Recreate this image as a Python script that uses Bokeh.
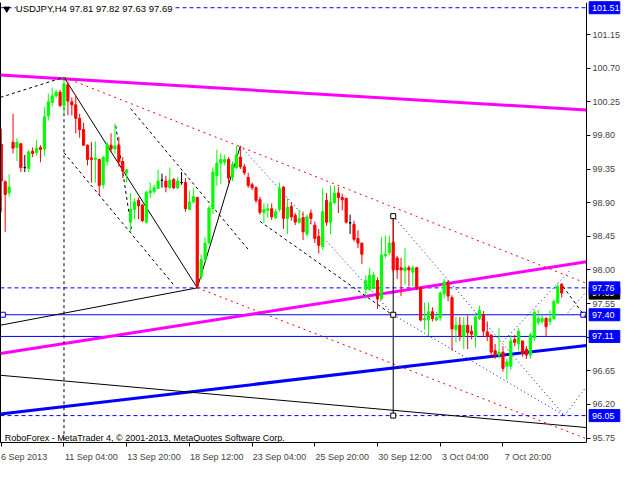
from bokeh.plotting import figure
from bokeh.models import LinearAxis, FixedTicker, Range1d, Label, PrintfTickFormatter
from bokeh.core.properties import value
from bokeh.embed import file_html
from bokeh.resources import INLINE

# ---------------- data (USDJPY H4 candles) ----------------
opens = [99.68, 99.18, 99.03, 99.71, 99.64, 99.69, 99.37, 99.36, 99.59, 99.57,
         99.64, 99.62, 100.06, 100.24, 100.33, 100.38, 100.20, 100.48, 100.25, 100.21,
         100.03, 99.88, 99.67, 99.50, 99.48, 99.48, 99.14, 99.45, 99.67, 99.62,
         99.67, 99.45, 99.30, 98.64, 98.81, 98.93, 98.87, 98.64, 99.03, 99.05,
         99.09, 99.20, 99.19, 99.10, 99.21, 99.10, 99.17, 99.17, 98.81, 98.91,
         98.97, 97.91, 98.14, 98.36, 98.82, 99.26, 99.43, 99.44, 99.48, 99.24,
         99.37, 99.51, 99.38, 99.24, 99.14, 99.10, 98.94, 98.77, 98.80, 98.82,
         98.70, 98.81, 99.11, 98.69, 98.85, 98.73, 98.64, 98.70, 98.48, 98.76,
         98.60, 98.45, 98.31, 98.93, 98.64, 98.90, 99.03, 98.97, 98.96, 98.63,
         98.61, 98.42, 98.36, 97.74, 97.74, 97.76, 97.86, 97.61, 98.19, 98.23,
         98.37, 98.16, 98.03, 97.99, 98.03, 97.97, 98.03, 97.76, 97.33, 97.33,
         97.44, 97.33, 97.36, 97.68, 97.84, 97.63, 97.20, 97.26, 97.11, 97.26,
         97.18, 97.11, 97.35, 97.40, 97.17, 97.13, 96.92, 96.86, 96.90, 96.71,
         96.71, 97.07, 97.01, 97.05, 96.94, 96.86, 97.09, 97.30, 97.31, 97.35,
         97.31, 97.35, 97.56, 97.81]
highs = [99.89, 99.20, 99.28, 100.09, 99.76, 99.70, 99.54, 99.61, 99.64, 99.74,
         99.67, 100.18, 100.36, 100.44, 100.41, 100.41, 100.58, 100.52, 100.31, 100.34,
         100.09, 99.97, 99.68, 99.71, 99.72, 99.49, 99.52, 99.71, 99.83, 99.96,
         99.78, 99.51, 99.35, 99.03, 98.96, 98.97, 98.88, 99.06, 99.17, 99.14,
         99.34, 99.29, 99.26, 99.37, 99.23, 99.24, 99.31, 99.23, 99.06, 99.09,
         98.98, 98.21, 98.44, 98.86, 99.37, 99.61, 99.56, 99.54, 99.51, 99.45,
         99.66, 99.66, 99.42, 99.30, 99.17, 99.12, 98.98, 98.89, 98.89, 98.89,
         98.82, 99.17, 99.12, 98.96, 98.90, 98.76, 98.81, 98.78, 98.74, 98.81,
         98.65, 98.55, 99.09, 99.03, 99.13, 99.13, 99.11, 99.02, 98.96, 98.74,
         98.66, 98.53, 98.36, 97.93, 98.03, 97.97, 97.90, 98.44, 98.46, 98.46,
         98.72, 98.19, 98.16, 98.29, 98.06, 98.06, 98.04, 97.77, 97.56, 97.56,
         97.50, 97.44, 97.71, 97.88, 97.86, 97.66, 97.37, 97.37, 97.37, 97.39,
         97.26, 97.43, 97.52, 97.45, 97.31, 97.13, 97.01, 97.22, 96.98, 96.81,
         97.13, 97.13, 97.22, 97.05, 96.98, 97.16, 97.46, 97.46, 97.40, 97.37,
         97.46, 97.60, 97.82, 97.82]
lows = [98.78, 98.51, 98.98, 99.56, 99.46, 99.31, 99.31, 99.31, 99.51, 99.53,
        99.44, 99.53, 100.00, 100.19, 100.30, 100.18, 100.09, 100.07, 100.07, 99.83,
        99.77, 99.66, 99.40, 99.17, 99.17, 99.00, 99.09, 99.40, 99.58, 99.56,
        99.38, 99.23, 99.17, 98.51, 98.68, 98.68, 98.64, 98.62, 98.96, 99.02,
        99.08, 99.10, 99.04, 99.09, 99.08, 99.08, 99.14, 98.78, 98.80, 98.89,
        97.76, 97.87, 98.12, 98.34, 98.75, 99.13, 99.15, 99.40, 99.16, 99.19,
        99.35, 99.35, 99.27, 99.10, 99.07, 98.90, 98.74, 98.63, 98.70, 98.67,
        98.68, 98.78, 98.55, 98.48, 98.66, 98.60, 98.62, 98.40, 98.45, 98.61,
        98.36, 98.22, 98.27, 98.59, 98.48, 98.88, 98.76, 98.80, 98.62, 98.48,
        98.38, 98.29, 98.08, 97.61, 97.72, 97.74, 97.48, 97.60, 98.16, 98.20,
        97.97, 97.88, 97.65, 97.80, 97.78, 97.78, 97.73, 97.31, 97.20, 97.13,
        97.31, 97.31, 97.32, 97.62, 97.58, 96.92, 97.03, 97.05, 96.94, 96.94,
        97.07, 96.96, 97.33, 97.11, 97.05, 96.84, 96.81, 96.81, 96.64, 96.53,
        96.66, 96.98, 96.92, 96.84, 96.81, 96.81, 97.05, 97.26, 97.28, 97.11,
        97.26, 97.33, 97.54, 97.63]
closes = [99.19, 99.01, 99.11, 99.63, 99.71, 99.37, 99.37, 99.58, 99.56, 99.63,
          99.61, 100.05, 100.25, 100.33, 100.38, 100.20, 100.49, 100.26, 100.21, 100.03,
          99.88, 99.67, 99.48, 99.48, 99.50, 99.13, 99.51, 99.68, 99.62, 99.66,
          99.45, 99.32, 99.34, 98.81, 98.91, 98.86, 98.66, 99.04, 99.06, 99.10,
          99.19, 99.20, 99.11, 99.20, 99.10, 99.19, 99.17, 98.82, 98.91, 98.98,
          97.78, 98.14, 98.36, 98.83, 99.31, 99.43, 99.48, 99.48, 99.23, 99.41,
          99.54, 99.38, 99.30, 99.13, 99.10, 98.93, 98.77, 98.81, 98.82, 98.71,
          98.78, 99.09, 98.69, 98.84, 98.71, 98.64, 98.69, 98.51, 98.71, 98.69,
          98.42, 98.33, 98.78, 98.64, 98.91, 99.03, 98.97, 98.94, 98.64, 98.63,
          98.41, 98.36, 98.21, 97.86, 97.93, 97.93, 97.61, 98.20, 98.21, 98.36,
          98.00, 98.00, 98.00, 98.03, 98.00, 98.03, 97.76, 97.33, 97.35, 97.44,
          97.35, 97.36, 97.69, 97.84, 97.65, 97.21, 97.26, 97.11, 97.26, 97.16,
          97.14, 97.37, 97.46, 97.18, 97.11, 96.90, 96.86, 96.90, 96.68, 96.77,
          97.05, 97.03, 97.18, 96.88, 96.86, 97.13, 97.43, 97.35, 97.35, 97.24,
          97.35, 97.58, 97.78, 97.69]

x_tick_pos = [0, 16, 32, 48, 64, 80, 96, 112, 128]
x_tick_labels = ["6 Sep 2013", "11 Sep 04:00", "13 Sep 20:00", "18 Sep 12:00",
                 "23 Sep 04:00", "25 Sep 20:00", "30 Sep 12:00", "3 Oct 04:00", "7 Oct 20:00"]
y_ticks = [95.75, 96.20, 96.65, 97.10, 97.55, 98.00, 98.45, 98.90, 99.35, 99.80,
           100.25, 100.70, 101.15, 101.60]

# drawn objects (bar index, price)
magenta_top = ([-0.2, 149.3], [100.61, 100.14])
magenta_up = ([-0.2, 149.3], [96.88, 98.11])
blue_thick = ([-0.2, 149.3], [96.07, 96.99])
black_down = ([-0.2, 149.3], [96.59, 95.89])
black_up = ([-0.2, 50], [97.26, 97.76])
zigzag = ([16, 50, 61], [100.58, 97.76, 99.66])
dash_lines = [([-0.2, 16], [100.31, 100.58]),
              ([16, 16], [100.58, 95.69]),
              ([16, 44], [99.57, 97.80]),
              ([33, 63.4], [100.16, 98.25]),
              ([29.2, 33.2], [99.93, 98.55]),
              ([66, 100], [98.65, 97.39]),
              ([143.3, 149.3], [97.78, 97.35])]
red_dots = [([16, 149.3], [100.58, 97.82]),
            ([50, 149.3], [97.76, 95.74])]
blue_dots = [([61, 100], [99.66, 97.40]),
             ([100, 143.7], [98.72, 96.05]),
             ([100, 143.7], [97.40, 96.05]),
             ([128, 145], [97.04, 97.99]),
             ([143.7, 149.3], [96.05, 96.44]),
             ([144.6, 149.3], [97.43, 97.71])]
vertical = ([100, 100], [98.72, 96.05])
hlines_dashed = [101.51, 97.76, 96.05]
hlines_solid = [97.40, 97.11]
bid_price = 97.69                                   # black box (current price)
box_prices = [101.51, 97.76, 97.40, 97.11, 96.05]   # blue level boxes

FONT = "Liberation Sans"
BLUE = "#0000ff"
MAG = "#ff00ff"
W, H = 624, 464
RIGHT_PX = 38                      # width of the price-scale strip
X0, XD = -0.2, 149.3               # data part of the time axis
PX = (W - 1 - RIGHT_PX) / (XD - X0)  # pixels per bar
X_END = X0 + (W - 1) / PX

p = figure(width=W, height=H, output_backend="svg", toolbar_location=None,
           x_range=Range1d(X0, X_END), y_range=Range1d(95.69, 101.58),
           x_axis_location=None, y_axis_location=None,
           min_border_left=0, min_border_right=0, min_border_top=2, min_border_bottom=17)
p.grid.visible = False
p.outline_line_color = None
p.background_fill_color = "white"
p.border_fill_color = "white"

# right price scale, placed at the end of the data area
ry = LinearAxis(ticker=FixedTicker(ticks=y_ticks), formatter=PrintfTickFormatter(format="%.2f"),
                fixed_location=XD)
ry.major_tick_out = 4
ry.major_tick_in = 0
ry.minor_tick_line_color = None
ry.major_label_standoff = 2
ry.major_label_text_font = FONT
ry.major_label_text_font_size = "9px"
ry.axis_line_color = "black"
p.add_layout(ry, "right")

# time scale: labels start at their tick (MT4 style)
centres = [pos + len(lab) * 4.56 / 2 / PX for pos, lab in zip(x_tick_pos, x_tick_labels)]
bx = LinearAxis(ticker=FixedTicker(ticks=centres, minor_ticks=x_tick_pos),
                major_label_overrides={c: lab for c, lab in zip(centres, x_tick_labels)},
                bounds=(X0, XD))
bx.major_tick_line_color = None
bx.major_tick_out = 0
bx.major_tick_in = 0
bx.minor_tick_out = 4
bx.minor_tick_in = 0
bx.minor_tick_line_color = "black"
bx.major_label_standoff = 5
bx.major_label_text_font = FONT
bx.major_label_text_font_size = "9px"
bx.axis_line_color = "black"
p.add_layout(bx, "below")

ly = LinearAxis(ticker=FixedTicker(ticks=[]))
ly.major_tick_out = 0
ly.minor_tick_out = 0
ly.major_label_standoff = 0
ly.axis_line_color = "black"
p.add_layout(ly, "left")

# horizontal levels
for lv in hlines_dashed:
    p.line([X0, XD], [lv, lv], line_color=BLUE, line_width=1, line_dash="4 3")
for lv in hlines_solid:
    p.line([X0, XD], [lv, lv], line_color=BLUE, line_width=1)
p.scatter([0.4, 148.5], [97.40, 97.40], marker="square", size=5, fill_color="white",
          line_color=BLUE, line_width=1)

# trend lines
p.line(*magenta_top, line_color=MAG, line_width=3)
p.line(*magenta_up, line_color=MAG, line_width=3)
p.line(*blue_thick, line_color=BLUE, line_width=3)
p.line(*black_down, line_color="black", line_width=1)
p.line(*black_up, line_color="black", line_width=1)
p.line(*zigzag, line_color="black", line_width=1)
for xs, ys in dash_lines:
    p.line(xs, ys, line_color="black", line_width=1, line_dash="3 3")
for xs, ys in red_dots:
    p.line(xs, ys, line_color="#ff0000", line_width=1, line_dash="2 4")
for xs, ys in blue_dots:
    p.line(xs, ys, line_color=BLUE, line_width=1, line_dash="1 3")
p.line(*vertical, line_color="black", line_width=1)

# candles
idx = list(range(len(opens)))
colors = []
for o, c in zip(opens, closes):
    colors.append("#00ff00" if c > o else ("#ff0000" if c < o else "#000000"))
tops = [max(o, c) for o, c in zip(opens, closes)]
bots = [min(o, c) for o, c in zip(opens, closes)]
p.segment(x0=idx, y0=lows, x1=idx, y1=highs, line_color=colors, line_width=1)
p.vbar(x=idx, width=0.55, top=tops, bottom=bots, fill_color=colors, line_color=colors, line_width=1)

p.scatter([100, 100, 100], [98.72, 97.40, 96.05], marker="square", size=5,
          fill_color="white", line_color="black", line_width=1)

# title and copyright
p.scatter([1.4], [101.495], marker="inverted_triangle", size=6, fill_color="black", line_color="black")
p.add_layout(Label(x=3.7, y=101.495, text="USDJPY,H4  97.81 97.82 97.63 97.69",
                   text_font=FONT, text_font_size="9.5px", text_baseline="middle",
                   background_fill_color="white", text_color="black"))
p.add_layout(Label(x=0.9, y=95.75, text="RoboForex - MetaTrader 4, \u00a9 2001-2013, MetaQuotes Software Corp.",
                   text_font=FONT, text_font_size="9px", text_baseline="alphabetic", text_color="black"))

# price boxes on the price scale (drawn above the axis labels)
box_w = 30.6 / PX
box_cx = XD + 2.7 / PX + box_w / 2
text_x = XD + 5.5 / PX
# current bid (black) first, so that the 97.76 level box covers most of it
p.rect(x=[box_cx], y=[bid_price], width=box_w, height=12, height_units="screen",
       fill_color="#000000", line_color="#000000", level="overlay")
p.text(x=[text_x], y=[bid_price], text=["%.2f" % bid_price], text_font=value(FONT),
       text_font_size="9px", text_baseline="middle", text_align="left",
       text_color="white", level="overlay")
p.rect(x=[box_cx] * len(box_prices), y=box_prices, width=box_w,
       height=12, height_units="screen", fill_color=BLUE, line_color=BLUE, level="overlay")
p.text(x=[text_x] * len(box_prices), y=box_prices, text=["%.2f" % v for v in box_prices],
       text_font=value(FONT), text_font_size="9px", text_baseline="middle", text_align="left",
       text_color="white", level="overlay")

open("out.html", "w").write(file_html(p, INLINE))
